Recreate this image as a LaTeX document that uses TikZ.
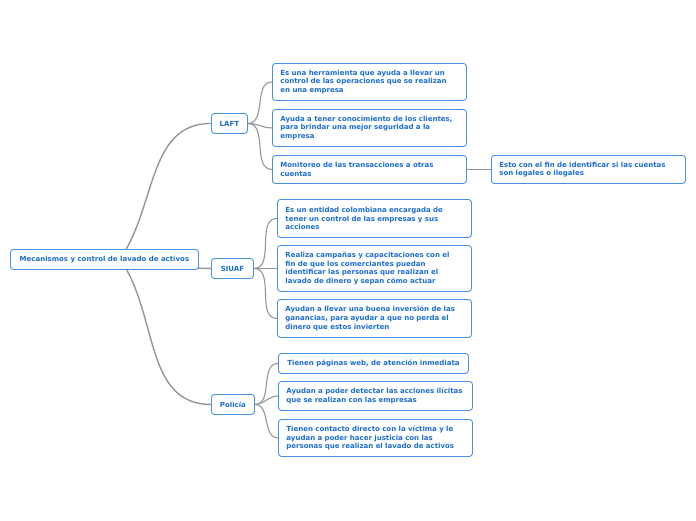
\documentclass[tikz,border=0pt]{standalone}
\usepackage{fontspec}
\setmainfont{DejaVu Sans}
\usetikzlibrary{backgrounds}
\definecolor{mmblue}{RGB}{28,110,210}
\definecolor{mmedge}{RGB}{70,145,230}
\definecolor{mmgrey}{RGB}{150,150,150}
\tikzset{
  topic/.style={draw=mmedge, line width=0.9pt, rounded corners=3pt, fill=white,
    text=mmblue, font=\fontsize{7}{8.6}\selectfont\bfseries,
    inner xsep=8pt, inner ysep=3pt, anchor=north west, align=left},
  main/.style={topic, minimum height=20pt},
  sub/.style={topic, text width=178pt},
  link/.style={draw=mmgrey, line width=1.1pt},
  biglink/.style={draw=mmgrey, line width=1.4pt},
}
\begin{document}
\begin{tikzpicture}[x=1pt,y=-1pt]
  \useasboundingbox (0,0) rectangle (696,520);
  % root and branches
  \node[main, minimum width=188pt] (root) at (10,249) {Mecanismos y control de lavado de activos};
  \coordinate (hub) at (120,259);
  \node[main, minimum width=36pt, align=center] (laft) at (211,113) {LAFT};
  \node[main, minimum width=42pt, align=center] (siuaf) at (211,258) {SIUAF};
  \node[main, minimum width=43pt, align=center] (policia) at (211,394) {Policía};
  % LAFT
  \node[sub, minimum height=37pt] (laft1) at (272,63) {Es una herramienta que ayuda a llevar un\\control de las operaciones que se realizan\\en una empresa};
  \node[sub, minimum height=37pt] (laft2) at (272,109) {Ayuda a tener conocimiento de los clientes,\\para brindar una mejor seguridad a la\\empresa};
  \node[sub, minimum height=28pt] (laft3) at (272,155) {Monitoreo de las transacciones a otras\\cuentas};
  \node[sub, minimum height=28pt] (laft3a) at (491,155) {Esto con el fin de identificar si las cuentas\\son legales o ilegales};
  % SIUAF
  \node[sub, minimum height=38pt] (siuaf1) at (277,199) {Es un entidad colombiana encargada de\\tener un control de las empresas y sus\\acciones};
  \node[sub, minimum height=46pt] (siuaf2) at (277,245) {Realiza campañas y capacitaciones con el\\fin de que los comerciantes puedan\\identificar las personas que realizan el\\lavado de dinero y sepan cómo actuar};
  \node[sub, minimum height=38pt] (siuaf3) at (277,299) {Ayudan a llevar una buena inversión de las\\ganancias, para ayudar a que no perda el\\dinero que estos invierten};
  % Policia
  \node[topic, minimum height=20pt, minimum width=190pt] (pol1) at (278,353) {Tienen páginas web, de atención inmediata};
  \node[sub, minimum height=29pt] (pol2) at (278,381) {Ayudan a poder detectar las acciones ilícitas\\que se realizan con las empresas};
  \node[sub, minimum height=37pt] (pol3) at (278,419) {Tienen contacto directo con la víctima y le\\ayudan a poder hacer justicia con las\\personas que realizan el lavado de activos};
  % connectors
  \begin{pgfonlayer}{background}
    \draw[biglink] (hub) to[out=55,in=180] (laft.west);
    \draw[biglink] (hub) to[out=0,in=180] (siuaf.west);
    \draw[biglink] (hub) to[out=-55,in=180] (policia.west);
    \foreach \c in {laft1,laft2,laft3}
      \draw[link] (laft.east) to[out=0,in=180] (\c.west);
    \foreach \c in {siuaf1,siuaf2,siuaf3}
      \draw[link] (siuaf.east) to[out=0,in=180] (\c.west);
    \foreach \c in {pol1,pol2,pol3}
      \draw[link] (policia.east) to[out=0,in=180] (\c.west);
    \draw[link] (laft3.east) -- (laft3a.west);
  \end{pgfonlayer}
\end{tikzpicture}
\end{document}
